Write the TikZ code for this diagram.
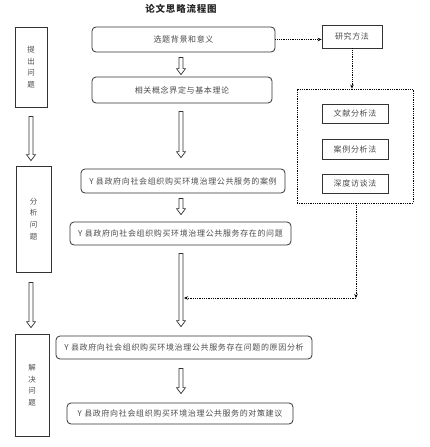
\documentclass[tikz,border=0pt]{standalone}
\usepackage{fontspec}
\setmainfont{Noto Sans CJK SC}[LetterSpace=8]
\usetikzlibrary{calc,arrows.meta}
\definecolor{linec}{gray}{0.2}
\definecolor{txt}{gray}{0.3}
\newcommand\harrow[5]{% x, from node, to node, start gap, end gap
  \draw[hollow] let \p1=(#2.south), \p2=(#3.north) in
    (#1pt-2pt,\y1-#4pt) -- (#1pt-2pt,\y2+#5pt+6pt) -- (#1pt-4.5pt,\y2+#5pt+6pt)
    -- (#1pt,\y2+#5pt) -- (#1pt+4.5pt,\y2+#5pt+6pt) -- (#1pt+2pt,\y2+#5pt+6pt)
    -- (#1pt+2pt,\y1-#4pt) -- cycle;}
\begin{document}
\begin{tikzpicture}[x=1pt,y=-1pt,
  rbox/.style={draw=linec, line width=0.8pt, rounded corners=4pt, text=txt, inner sep=0pt, font=\fontsize{8}{10}\selectfont},
  sbox/.style={draw=linec, line width=0.8pt, text=txt, inner sep=0pt, font=\fontsize{8}{10}\selectfont},
  lbox/.style={draw=linec, line width=0.8pt, text=txt, inner sep=0pt, align=center, font=\fontsize{7.5}{11.6}\selectfont},
  hollow/.style={draw=linec, line width=0.7pt, fill=white},
  dots/.style={draw=black, densely dotted, line width=0.8pt, -{Stealth[length=4pt,width=3.5pt]}},
  dotbox/.style={draw=black, densely dotted, line width=0.8pt, inner sep=0pt}]
\useasboundingbox[fill=white] (0,0) rectangle (430,447);

\node[font=\bfseries\fontsize{9.5}{11}\selectfont, text=black!85] (title) at (181,9) {论文思略流程图};

% left stage boxes
\node[lbox, minimum width=32pt, minimum height=80pt] (L1) at (31,67) {提\\出\\问\\题};
\node[lbox, minimum width=35pt, minimum height=106pt] (L2) at (33.5,219) {分\\析\\问\\题};
\node[lbox, minimum width=34pt, minimum height=102pt] (L3) at (32,385) {解\\决\\问\\题};

% main column
\node[rbox, minimum width=183pt, minimum height=25pt] (a) at (183.5,39.5) {选题背景和意义};
\node[rbox, minimum width=180pt, minimum height=26pt] (b) at (182,90) {相关概念界定与基本理论};
\node[rbox, minimum width=204pt, minimum height=24pt] (c) at (183,181) {Y 县政府向社会组织购买环境治理公共服务的案例};
\node[rbox, minimum width=221pt, minimum height=23pt] (d) at (180.5,233.5) {Y 县政府向社会组织购买环境治理公共服务存在的问题};
\node[rbox, minimum width=256pt, minimum height=23pt] (e) at (184,347.5) {Y 县政府向社会组织购买环境治理公共服务存在问题的原因分析};
\node[rbox, minimum width=226pt, minimum height=21pt] (f) at (180,413.5) {Y 县政府向社会组织购买环境治理公共服务的对策建议};

% research methods
\node[sbox, minimum width=60pt, minimum height=23pt] (m) at (352,36.5) {研究方法};
\node[dotbox, minimum width=116pt, minimum height=114pt] (g) at (355,146) {};
\node[sbox, minimum width=66pt, minimum height=19pt] (m1) at (355,113.5) {文献分析法};
\node[sbox, minimum width=66pt, minimum height=20pt] (m2) at (355,149) {案例分析法};
\node[sbox, minimum width=66pt, minimum height=19pt] (m3) at (355,183.5) {深度访谈法};

% hollow arrows
\harrow{181}{a}{b}{5}{2}
\harrow{181}{b}{c}{8}{11}
\harrow{181}{c}{d}{5}{7}
\harrow{181}{d}{e}{8}{9}
\harrow{181}{e}{f}{9}{9}
\harrow{31}{L1}{L2}{9}{5}
\harrow{31}{L2}{L3}{10}{6}

% dotted connectors
\draw[dots] (a.east) -- (a.east -| m.west);
\draw[dots] (m.south) -- (m.south |- g.north);
\coordinate (corner) at (356,298);
\coordinate (join) at (184,298);
\draw[dots] (g.south -| corner) -- (corner);
\draw[dots] (corner) -- (join);
\end{tikzpicture}
\end{document}
